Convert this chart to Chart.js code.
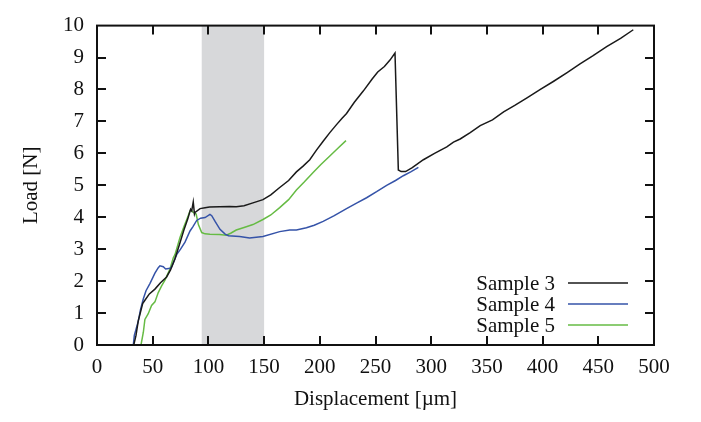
<!DOCTYPE html>
<html>
<head>
<meta charset="utf-8">
<script src="https://cdn.jsdelivr.net/npm/chart.js@4.4.1/dist/chart.umd.min.js"></script>
<style>
html,body{margin:0;padding:0;background:#fff;}
#wrap{width:701px;height:422px;}
</style>
</head>
<body>
<div id="wrap"><canvas id="c" width="701" height="422"></canvas></div>
<script>
// ---- data ----
const sampleLabels = ["Sample 3", "Sample 4", "Sample 5"];
const sample3X = [33,35,37,41,43,47,52,57,62.5,66,70,74.5,78,81.5,84,85,86.4,87.5,88,92.5,97,101,110,119,125,132,140,149,156,164,172,179,185,191,197,203,209,215,220,224,231,239,247,252,258,263,267.5,270.5,273,277,283,293,303,314,320,326,335,344,355,365,375,386,398,409.6,422,433.6,445,457.5,470,481.4];
const sample3Y = [0,0.3,0.75,1.3,1.4,1.6,1.75,1.95,2.13,2.35,2.7,3.2,3.6,3.95,4.25,4.2,4.48,4.1,4.15,4.27,4.3,4.32,4.33,4.34,4.33,4.36,4.45,4.55,4.7,4.93,5.15,5.42,5.6,5.8,6.1,6.38,6.65,6.9,7.1,7.25,7.6,7.95,8.33,8.55,8.72,8.92,9.14,5.48,5.43,5.43,5.55,5.8,6.0,6.2,6.35,6.45,6.65,6.87,7.05,7.3,7.5,7.74,8.0,8.25,8.53,8.8,9.05,9.34,9.6,9.87];
const sample4X = [32.6,33.5,37,39,41.6,44,47.6,52,55,56.5,59.5,61.6,65.5,67,71.5,75,79,83.5,86,89.5,93,97,101.4,103,106,110.4,115,118,128,137,149,164,173,179,188,195,203,213,224,233,242,251,260,268,275,282,288.5];
const sample4Y = [0,0.3,0.74,1.1,1.45,1.7,1.93,2.25,2.42,2.48,2.45,2.38,2.4,2.45,2.83,3.0,3.22,3.57,3.7,3.9,3.97,3.99,4.09,4.05,3.87,3.62,3.47,3.42,3.4,3.35,3.4,3.55,3.6,3.6,3.67,3.75,3.87,4.05,4.27,4.44,4.61,4.8,5.0,5.15,5.3,5.43,5.56];
const sample5X = [39.5,41.6,43,46,49,52,55,58,61,65.5,68.5,70,74.5,78,80.5,83.5,85,86.4,88,89,91,94,97,101.4,110,116,120,125,132,140,149,156,164,172,179,186,194,201,209,216,223.5];
const sample5Y = [0,0.4,0.8,0.98,1.24,1.35,1.64,1.85,2.03,2.38,2.73,2.83,3.37,3.7,3.92,4.2,4.21,4.15,4.12,4.1,3.77,3.52,3.48,3.47,3.46,3.44,3.5,3.6,3.68,3.77,3.93,4.07,4.3,4.55,4.85,5.1,5.4,5.65,5.92,6.15,6.4];
const bandRange = [94, 150];
const xTicks = [0,50,100,150,200,250,300,350,400,450,500];
const yTicks = [0,1,2,3,4,5,6,7,8,9,10];

const colors = ["#1a1a1a", "#3553a8", "#66bb44"];
const FONT = "'Liberation Serif', 'Times New Roman', serif";
const FS = 21;

function pts(xs, ys){ return xs.map((x,i)=>({x:x, y:ys[i]})); }

const bandPlugin = {
  id: 'band',
  beforeDatasetsDraw(chart){
    const {ctx, chartArea:a, scales:{x}} = chart;
    const x0 = x.getPixelForValue(bandRange[0]);
    const x1 = x.getPixelForValue(bandRange[1]);
    ctx.save();
    ctx.fillStyle = '#d7d8da';
    ctx.fillRect(x0, a.top, x1-x0, a.bottom-a.top);
    ctx.restore();
  }
};

const framePlugin = {
  id: 'frame',
  afterDraw(chart){
    const {ctx, chartArea:a, scales:{x,y}} = chart;
    ctx.save();
    ctx.strokeStyle = '#111';
    ctx.lineWidth = 2;
    ctx.strokeRect(a.left, a.top, a.right-a.left, a.bottom-a.top);
    const L = 9;
    ctx.beginPath();
    xTicks.forEach(v=>{
      const px = Math.round(x.getPixelForValue(v));
      if (v===xTicks[0] || v===xTicks[xTicks.length-1]) return;
      ctx.moveTo(px, a.bottom); ctx.lineTo(px, a.bottom-L);
      ctx.moveTo(px, a.top); ctx.lineTo(px, a.top+L);
    });
    yTicks.forEach(v=>{
      const py = Math.round(y.getPixelForValue(v));
      if (v===yTicks[0] || v===yTicks[yTicks.length-1]) return;
      ctx.moveTo(a.left, py); ctx.lineTo(a.left+L, py);
      ctx.moveTo(a.right, py); ctx.lineTo(a.right-L, py);
    });
    ctx.stroke();

    // legend
    ctx.font = FS + 'px ' + FONT;
    ctx.textAlign = 'right';
    ctx.textBaseline = 'middle';
    const rows = [283, 304, 325];
    chart.data.datasets.forEach((ds,i)=>{
      ctx.fillStyle = '#111';
      ctx.fillText(ds.label, 555, rows[i]+1);
      ctx.strokeStyle = ds.borderColor;
      ctx.lineWidth = 1.5;
      ctx.beginPath();
      ctx.moveTo(568, rows[i]); ctx.lineTo(628, rows[i]);
      ctx.stroke();
    });
    ctx.restore();
  }
};

new Chart(document.getElementById('c'), {
  type: 'scatter',
  data: {
    datasets: [
      {label: sampleLabels[0], data: pts(sample3X, sample3Y), borderColor: colors[0]},
      {label: sampleLabels[1], data: pts(sample4X, sample4Y), borderColor: colors[1]},
      {label: sampleLabels[2], data: pts(sample5X, sample5Y), borderColor: colors[2]}
    ].map(d=>Object.assign(d,{showLine:true, pointRadius:0, borderWidth:1.5, tension:0, fill:false}))
  },
  options: {
    responsive: false,
    animation: false,
    devicePixelRatio: 1,
    layout: {padding: {top: 9, right: 47, left: 0, bottom: 0}},
    plugins: {legend: {display:false}, tooltip: {enabled:false}},
    scales: {
      x: {
        type: 'linear', min: 0, max: 500,
        afterFit(s){ s.height = 77; },
        afterBuildTicks(s){ s.ticks = xTicks.map(v=>({value:v})); },
        grid: {display:false, drawTicks:false},
        border: {display:false},
        ticks: {color:'#111', padding: 10, font:{family:FONT, size:FS}, maxRotation:0, autoSkip:false},
        title: {display:true, text:'Displacement [µm]', color:'#111', font:{family:FONT, size:FS}, padding:{top:0,bottom:10}}
      },
      y: {
        type: 'linear', min: 0, max: 10,
        afterFit(s){ s.width = 97; },
        afterBuildTicks(s){ s.ticks = yTicks.map(v=>({value:v})); },
        grid: {display:false, drawTicks:false},
        border: {display:false},
        ticks: {color:'#111', padding: 13, font:{family:FONT, size:FS}, autoSkip:false},
        title: {display:true, text:'Load [N]', color:'#111', font:{family:FONT, size:FS}, padding:{top:19,bottom:0}}
      }
    }
  },
  plugins: [bandPlugin, framePlugin]
});
</script>
</body>
</html>
